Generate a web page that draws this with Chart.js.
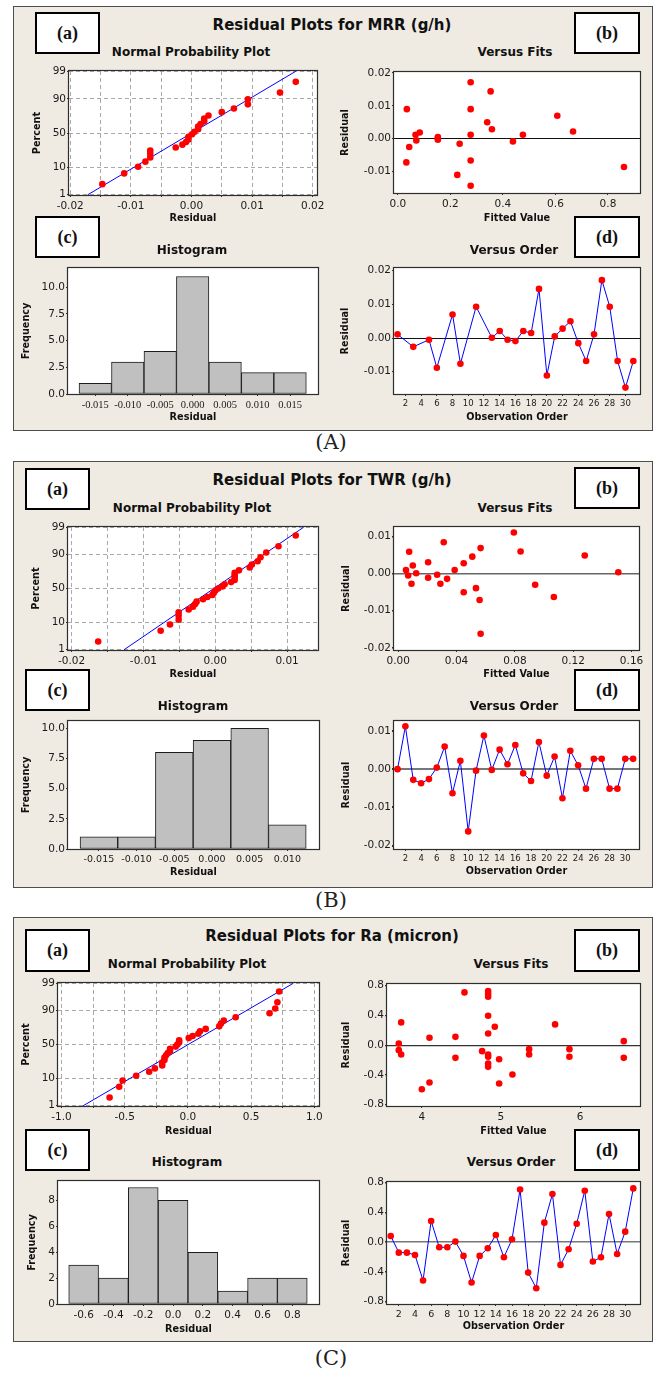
<!DOCTYPE html>
<html><head><meta charset="utf-8">
<script src="https://cdn.jsdelivr.net/npm/chart.js@4.4.0/dist/chart.umd.min.js"></script>
<style>
html,body{margin:0;padding:0;overflow:hidden;background:#fff;}
body{width:657px;height:1374px;position:relative;font-family:'DejaVu Sans';}
.panel{position:absolute;background:#EFEBE3;border:1.5px solid #4d4d4d;box-sizing:border-box;}
.box{position:absolute;background:#fff;border:2px solid #000;box-sizing:border-box;display:flex;align-items:center;justify-content:center;font:bold 18px 'Liberation Serif';color:#111;}
.t{position:absolute;transform:translate(-50%,-50%);white-space:nowrap;line-height:1.15;color:#111;}
.ttl{font:bold 15px 'DejaVu Sans';}
.sub{font:bold 12px 'DejaVu Sans';}
.cap{font:21px 'DejaVu Serif';color:#222;}
canvas{position:absolute;}
</style></head><body>
<script>
// ================= DATA =================
const nppTickPct = [1, 10, 50, 90, 99];
const nppTickLabels = ['1', '10', '50', '90', '99'];
const fitLinePct = [1, 99];
const orderTicks = [2,4,6,8,10,12,14,16,18,20,22,24,26,28,30];
const orderLabels = ['2','4','6','8','10','12','14','16','18','20','22','24','26','28','30'];

// ---- (A) MRR ----
const mrrOrder = [1,3,5,6,8,9,11,13,14,15,16,17,18,19,20,21,22,23,24,25,26,27,28,29,30,31];
const mrrResid = [0.0011,-0.0026,-0.0005,-0.0088,0.0070,-0.0076,0.0093,0.0001,0.0021,-0.0005,-0.0009,0.0021,0.0015,0.0146,-0.0111,0.0005,0.0028,0.0050,-0.0015,-0.0068,0.0011,0.0172,0.0093,-0.0068,-0.0147,-0.0068];
const mrrPct = [2.7,6.4,10.2,14.0,17.8,21.6,25.4,29.2,33.0,36.7,40.5,44.3,48.1,51.9,55.7,59.5,63.3,67.0,70.8,74.6,78.4,82.2,86.0,89.8,93.6,97.3];
const mrrLineX = [-0.0171, 0.0172];
const mrrFitted = [0.034,0.032,0.043,0.067,0.070,0.083,0.152,0.152,0.152,0.235,0.226,0.277,0.277,0.277,0.277,0.277,0.340,0.353,0.358,0.438,0.476,0.607,0.667,0.861];
const mrrFitResid = [0.0090,-0.0072,-0.0025,0.0012,-0.0005,0.0019,0.0005,-0.0003,0.0001,-0.0015,-0.0110,0.0172,0.0090,0.0012,-0.0066,-0.0143,0.0050,0.0144,0.0029,-0.0008,0.0012,0.0070,0.0022,-0.0086];
const mrrHistMid = [-0.015,-0.010,-0.005,0,0.005,0.010,0.015];
const mrrHistCount = [1,3,4,11,3,2,2];
const mrrHistLabels = ['-0.015','-0.010','-0.005','0.000','0.005','0.010','0.015'];
const mrrNppXTicks = [-0.02,-0.015,-0.01,-0.005,0,0.005,0.01,0.015,0.02];
const mrrNppXLabels = ['-0.02','','-0.01','','0.00','','0.01','','0.02'];
const mrrFitsXTicks = [0,0.2,0.4,0.6,0.8];
const mrrFitsXLabels = ['0.0','0.2','0.4','0.6','0.8'];
const mrrResTicks = [-0.01,0,0.01,0.02];
const mrrResLabels = ['-0.01','0.00','0.01','0.02'];
const histYTicks25 = [0,2.5,5,7.5,10];
const histYLabels25 = ['0.0','2.5','5.0','7.5','10.0'];

// ---- (B) TWR ----
const twrOrder = [1,2,3,4,5,6,7,8,9,10,11,12,13,14,15,16,17,18,19,20,21,22,23,24,25,26,27,28,29,30,31];
const twrResid = [0.0000,0.0112,-0.0028,-0.0037,-0.0026,0.0004,0.0059,-0.0063,0.0022,-0.0163,-0.0004,0.0088,-0.0002,0.0051,0.0013,0.0063,-0.0011,-0.0031,0.0071,-0.0017,0.0033,-0.0076,0.0048,0.0010,-0.0051,0.0027,0.0027,-0.0051,-0.0051,0.0027,0.0027];
const pct31 = [2.2,5.4,8.6,11.8,15.0,18.2,21.3,24.5,27.7,30.9,34.1,37.3,40.4,43.6,46.8,50.0,53.2,56.4,59.6,62.7,65.9,69.1,72.3,75.5,78.7,81.8,85.0,88.2,91.4,94.6,97.8];
const twrLineX = [-0.0127, 0.0123];
const twrFitted = [0.0053,0.0068,0.0075,0.0091,0.0100,0.0123,0.0205,0.0205,0.0267,0.0289,0.0312,0.0335,0.0387,0.0449,0.0449,0.0508,0.0533,0.0558,0.0565,0.0565,0.0793,0.0839,0.0939,0.1067,0.1279,0.1509];
const twrFitResid = [0.0010,-0.0005,0.0059,-0.0027,0.0022,0.0001,0.0031,-0.0011,-0.0003,-0.0027,0.0085,-0.0014,0.0010,0.0028,-0.0050,0.0046,-0.0039,-0.0071,0.0069,-0.0162,0.0111,0.0060,-0.0030,-0.0063,0.0049,0.0004];
const twrHistMid = [-0.015,-0.010,-0.005,0,0.005,0.010];
const twrHistCount = [1,1,8,9,10,2];
const twrHistLabels = ['-0.015','-0.010','-0.005','0.000','0.005','0.010'];
const twrNppXTicks = [-0.02,-0.015,-0.01,-0.005,0,0.005,0.01];
const twrNppXLabels = ['-0.02','','-0.01','','0.00','','0.01'];
const twrFitsXTicks = [0,0.04,0.08,0.12,0.16];
const twrFitsXLabels = ['0.00','0.04','0.08','0.12','0.16'];
const twrResTicks = [-0.02,-0.01,0,0.01];
const twrResLabels = ['-0.02','-0.01','0.00','0.01'];

// ---- (C) Ra ----
const raOrder = [1,2,3,4,5,6,7,8,9,10,11,12,13,14,15,16,17,18,19,20,21,22,23,24,25,26,27,28,29,30,31];
const raResid = [0.083,-0.141,-0.141,-0.172,-0.516,0.284,-0.069,-0.069,0.007,-0.185,-0.543,-0.185,-0.083,0.096,-0.203,0.038,0.708,-0.409,-0.619,0.262,0.646,-0.306,-0.096,0.248,0.691,-0.261,-0.203,0.378,-0.159,0.141,0.722];
const raLineX = [-0.828, 0.834];
const raFitted = [3.709,3.709,3.739,3.739,4.0,4.097,4.097,4.425,4.425,4.539,4.762,4.838,4.838,4.838,4.838,4.838,4.838,4.838,4.838,4.838,4.922,4.977,4.977,5.145,5.356,5.356,5.684,5.865,5.865,6.552,6.552];
const raFitResid = [0.022,-0.067,-0.126,0.306,-0.593,0.099,-0.503,0.112,-0.171,0.710,-0.081,0.728,0.688,0.652,0.396,0.157,-0.126,-0.157,-0.247,-0.292,0.247,-0.189,-0.517,-0.396,-0.054,-0.126,0.279,-0.054,-0.157,0.054,-0.171];
const raHistMid = [-0.6,-0.4,-0.2,0,0.2,0.4,0.6,0.8];
const raHistCount = [3,2,9,8,4,1,2,2];
const raHistLabels = ['-0.6','-0.4','-0.2','0.0','0.2','0.4','0.6','0.8'];
const raNppXTicks = [-1,-0.75,-0.5,-0.25,0,0.25,0.5,0.75,1];
const raNppXLabels = ['-1.0','','-0.5','','0.0','','0.5','','1.0'];
const raFitsXTicks = [4,5,6];
const raFitsXLabels = ['4','5','6'];
const raResTicks = [-0.8,-0.4,0,0.4,0.8];
const raResLabels = ['-0.8','-0.4','0.0','0.4','0.8'];
const raHistYTicks = [0,2,4,6,8];
const raHistYLabels = ['0','2','4','6','8'];

// ================= HELPERS =================
function probit(p){
  const a=[-3.969683028665376e+01,2.209460984245205e+02,-2.759285104469687e+02,1.383577518672690e+02,-3.066479806614716e+01,2.506628277459239e+00];
  const b=[-5.447609879822406e+01,1.615858368580409e+02,-1.556989798598866e+02,6.680131188771972e+01,-1.328068155288572e+01];
  const c=[-7.784894002430293e-03,-3.223964580411365e-01,-2.400758277161838e+00,-2.549732539343734e+00,4.374664141464968e+00,2.938163982698783e+00];
  const d=[7.784695709041462e-03,3.224671290700398e-01,2.445134137142996e+00,3.754408661907416e+00];
  const pl=0.02425; let q,r;
  if(p<pl){q=Math.sqrt(-2*Math.log(p));return (((((c[0]*q+c[1])*q+c[2])*q+c[3])*q+c[4])*q+c[5])/((((d[0]*q+d[1])*q+d[2])*q+d[3])*q+1);}
  if(p<=1-pl){q=p-0.5;r=q*q;return (((((a[0]*r+a[1])*r+a[2])*r+a[3])*r+a[4])*r+a[5])*q/(((((b[0]*r+b[1])*r+b[2])*r+b[3])*r+b[4])*r+1);}
  q=Math.sqrt(-2*Math.log(1-p));return -(((((c[0]*q+c[1])*q+c[2])*q+c[3])*q+c[4])*q+c[5])/((((d[0]*q+d[1])*q+d[2])*q+d[3])*q+1);
}
const zOf = pct => probit(pct/100);

Chart.defaults.font.family = "'DejaVu Sans'";
Chart.defaults.color = '#111';

const framePlugin = {
  id:'frame',
  beforeDraw(chart){const {ctx,chartArea:a}=chart;ctx.save();ctx.fillStyle='#fff';ctx.fillRect(a.left,a.top,a.right-a.left,a.bottom-a.top);ctx.restore();},
  beforeDatasetsDraw(chart){const {ctx,chartArea:a}=chart;ctx.save();ctx.strokeStyle='#2e2e2e';ctx.lineWidth=1.2;ctx.strokeRect(a.left-0.5,a.top-0.5,a.right-a.left+1,a.bottom-a.top+1);ctx.restore();}
};

const TITLE_FS = 9.7;
const TICK_FONT = {family:'DejaVu Sans',size:10.5};
function axisCfg(a, which, size){
  const g = a.grid || 'none';
  let grid;
  if(g==='dash'){
    grid={display:true,drawOnChartArea:true,color:'#A9A9A9',lineWidth:1,tickLength:2,tickColor:'#333',offset:false};
  } else if(g==='zero'){
    grid={display:true,drawOnChartArea:true,color:c=>(c.tick&&Math.abs(c.tick.value)<1e-9)?a.zeroColor:'rgba(0,0,0,0)',lineWidth:a.zeroWidth||1,tickLength:2,tickColor:'#333',offset:false};
  } else {
    grid={display:true,drawOnChartArea:false,tickLength:2,tickColor:'#333',color:'#333',offset:false};
  }
  return {
    type:'linear', min:a.min, max:a.max, offset:false,
    afterBuildTicks:s=>{s.ticks=a.ticks.map(v=>({value:v}));},
    afterFit:s=>{ if(which==='x') s.height=size; else s.width=size; },
    ticks:{autoSkip:false,maxRotation:0,minRotation:0,padding:which==='x'?3:1,color:'#1a1a1a',
      font:a.font||TICK_FONT,callback:(v,i)=>a.labels[i]},
    grid, border:{display:false,dash:g==='dash'?[4,3]:[]},
    title:{display:true,text:a.title,color:'#111',padding:0,font:{family:'DejaVu Sans',weight:'bold',size:TITLE_FS}}
  };
}
function makeChart(o){
  const lh = TITLE_FS*1.2;
  const wy = Math.round(o.L - o.yTitleX + lh/2);
  const hx = Math.round(o.xTitleY - o.B + lh/2);
  const PT=12, PR=16;
  const w = wy + (o.R-o.L) + PR, h = PT + (o.B-o.T) + hx;
  const cv=document.createElement('canvas');
  cv.width=w;cv.height=h;cv.style.width=w+'px';cv.style.height=h+'px';
  cv.style.left=(o.L-wy)+'px';cv.style.top=(o.T-PT)+'px';
  document.body.appendChild(cv);
  new Chart(cv,{type:o.type,data:{datasets:o.datasets},options:{
    responsive:false,animation:false,events:[],devicePixelRatio:1,
    layout:{padding:{top:PT,right:PR,left:0,bottom:0}},
    plugins:{legend:{display:false},tooltip:{enabled:false},title:{display:false}},
    scales:{x:axisCfg(o.x,'x',hx),y:axisCfg(o.y,'y',wy)}
  },plugins:[framePlugin]});
}
const PT_STYLE={pointRadius:3.3,pointBackgroundColor:'#ff0000',pointBorderColor:'#ff0000',pointBorderWidth:0};
function nppChart(L,T,R,B,yTx,xTy,resid,pct,lineX,xr,xt,xl){
  const sorted=[...resid].sort((p,q)=>p-q);
  makeChart({type:'scatter',L,T,R,B,yTitleX:yTx,xTitleY:xTy,
    datasets:[
      Object.assign({data:sorted.map((v,i)=>({x:v,y:zOf(pct[i])})),showLine:false},PT_STYLE),
      {data:lineX.map((v,i)=>({x:v,y:zOf(fitLinePct[i])})),showLine:true,borderColor:'#0000ff',borderWidth:1,pointRadius:0}
    ],
    x:{min:xr[0],max:xr[1],ticks:xt,labels:xl,grid:'dash',title:'Residual'},
    y:{min:zOf(nppTickPct[0])-0.01,max:zOf(nppTickPct[4])+0.01,ticks:nppTickPct.map(zOf),labels:nppTickLabels,grid:'dash',title:'Percent'}
  });
}
function fitsChart(L,T,R,B,yTx,xTy,fx,fy,xr,yr,xt,xl,yt,yl,zc,zw){
  makeChart({type:'scatter',L,T,R,B,yTitleX:yTx,xTitleY:xTy,
    datasets:[Object.assign({data:fx.map((v,i)=>({x:v,y:fy[i]})),showLine:false},PT_STYLE)],
    x:{min:xr[0],max:xr[1],ticks:xt,labels:xl,title:'Fitted Value'},
    y:{min:yr[0],max:yr[1],ticks:yt,labels:yl,grid:'zero',zeroColor:zc,zeroWidth:zw,title:'Residual'}
  });
}
function histChart(L,T,R,B,yTx,xTy,mid,cnt,xr,yr,xl,yt,yl,xfont){
  makeChart({type:'bar',L,T,R,B,yTitleX:yTx,xTitleY:xTy,
    datasets:[{data:mid.map((v,i)=>({x:v,y:cnt[i]})),backgroundColor:'#C0C0C0',borderColor:'#1c1c1c',borderWidth:1,borderSkipped:false,barPercentage:1,categoryPercentage:1}],
    x:{min:xr[0],max:xr[1],ticks:mid,labels:xl,title:'Residual',font:xfont},
    y:{min:yr[0],max:yr[1],ticks:yt,labels:yl,title:'Frequency'}
  });
}
function orderChart(L,T,R,B,yTx,xTy,obs,res,xr,yr,yt,yl,zc,zw,xfont){
  makeChart({type:'scatter',L,T,R,B,yTitleX:yTx,xTitleY:xTy,
    datasets:[Object.assign({data:obs.map((v,i)=>({x:v,y:res[i]})),showLine:true,borderColor:'#0000ff',borderWidth:1,tension:0},PT_STYLE)],
    x:{min:xr[0],max:xr[1],ticks:orderTicks,labels:orderLabels,title:'Observation Order',font:xfont},
    y:{min:yr[0],max:yr[1],ticks:yt,labels:yl,grid:'zero',zeroColor:zc,zeroWidth:zw,title:'Residual'}
  });
}
function panel(l,t,w,h){const d=document.createElement('div');d.className='panel';Object.assign(d.style,{left:l+'px',top:t+'px',width:w+'px',height:h+'px'});document.body.appendChild(d);}
function box(s,l,t,w,h){const d=document.createElement('div');d.className='box';d.textContent=s;Object.assign(d.style,{left:l+'px',top:t+'px',width:w+'px',height:h+'px'});document.body.appendChild(d);}
function txt(s,x,y,cls){const d=document.createElement('div');d.className='t '+cls;d.textContent=s;d.style.left=x+'px';d.style.top=y+'px';document.body.appendChild(d);}

// ================= LAYOUT =================
panel(13,6,640,425); panel(13,461,640,427); panel(13,917,640,425);

const small8={family:'DejaVu Sans',size:8.5}, small9={family:'DejaVu Sans',size:9.5}, serif10={family:'Liberation Serif',size:10.5};

// (A)
nppChart(69,71,317,195,38,218,mrrResid,mrrPct,mrrLineX,[-0.0202,0.0207],mrrNppXTicks,mrrNppXLabels);
fitsChart(394,72,640,193,346,218,mrrFitted,mrrFitResid,[-0.015,0.922],[-0.0165,0.0203],mrrFitsXTicks,mrrFitsXLabels,mrrResTicks,mrrResLabels,'#111',1);
histChart(68,268,318,394,27,417,mrrHistMid,mrrHistCount,[-0.0192,0.0193],[0,11.8],mrrHistLabels,histYTicks25,histYLabels25,serif10);
orderChart(394,268,640,394,346,417,mrrOrder,mrrResid,[0.55,31.85],[-0.0166,0.0208],mrrResTicks,mrrResLabels,'#111',1,small8);

// (B)
nppChart(68,527,318,650,37,674,twrResid,pct31,twrLineX,[-0.0205,0.0143],twrNppXTicks,twrNppXLabels);
fitsChart(394,527,639,650,347,674,twrFitted,twrFitResid,[-0.0029,0.1651],[-0.0206,0.0126],twrFitsXTicks,twrFitsXLabels,twrResTicks,twrResLabels,'#666',1.5);
histChart(68,721,319,849,27,872,twrHistMid,twrHistCount,[-0.0191,0.0142],[0,10.6],twrHistLabels,histYTicks25,histYLabels25,small9);
orderChart(394,721,639,849,347,871,twrOrder,twrResid,[0.55,31.75],[-0.0209,0.0126],twrResTicks,twrResLabels,'#777',2,small8);

// (C)
nppChart(58,983,319,1106,27,1131,raResid,pct31,raLineX,[-1.027,1.037],raNppXTicks,raNppXLabels);
fitsChart(387,984,640,1106,347,1131,raFitted,raFitResid,[3.56,6.757],[-0.819,0.823],raFitsXTicks,raFitsXLabels,raResTicks,raResLabels,'#333',1.2);
histChart(58,1181,319,1304,33,1329,raHistMid,raHistCount,[-0.772,0.979],[0,9.5],raHistLabels,raHistYTicks,raHistYLabels,TICK_FONT);
orderChart(387,1182,640,1304,347,1326,raOrder,raResid,[0.54,31.83],[-0.831,0.808],raResTicks,raResLabels,'#777',1.5,small9);

// text
txt('Residual Plots for MRR (g/h)',332,25,'ttl');
txt('Residual Plots for TWR (g/h)',332,480,'ttl');
txt('Residual Plots for Ra (micron)',332,936,'ttl');
[[191,52,'Normal Probability Plot'],[515,52,'Versus Fits'],[192,250,'Histogram'],[514,250,'Versus Order'],
 [192,508,'Normal Probability Plot'],[515,508,'Versus Fits'],[193,706,'Histogram'],[514,706,'Versus Order'],
 [187,964,'Normal Probability Plot'],[511,964,'Versus Fits'],[187,1162,'Histogram'],[511,1162,'Versus Order']
].forEach(a=>txt(a[2],a[0],a[1],'sub'));
box('(a)',35,12,65,42); box('(b)',574,12,66,42); box('(c)',35,216,65,42); box('(d)',574,216,66,42);
box('(a)',25,468,65,42); box('(b)',574,467,66,42); box('(c)',25,669,65,42); box('(d)',574,669,66,42);
box('(a)',25,929,65,43); box('(b)',574,929,66,43); box('(c)',25,1129,65,42); box('(d)',574,1129,66,42);
txt('(A)',331,442,'cap'); txt('(B)',331,900,'cap'); txt('(C)',331,1358,'cap');
</script>
</body></html>
